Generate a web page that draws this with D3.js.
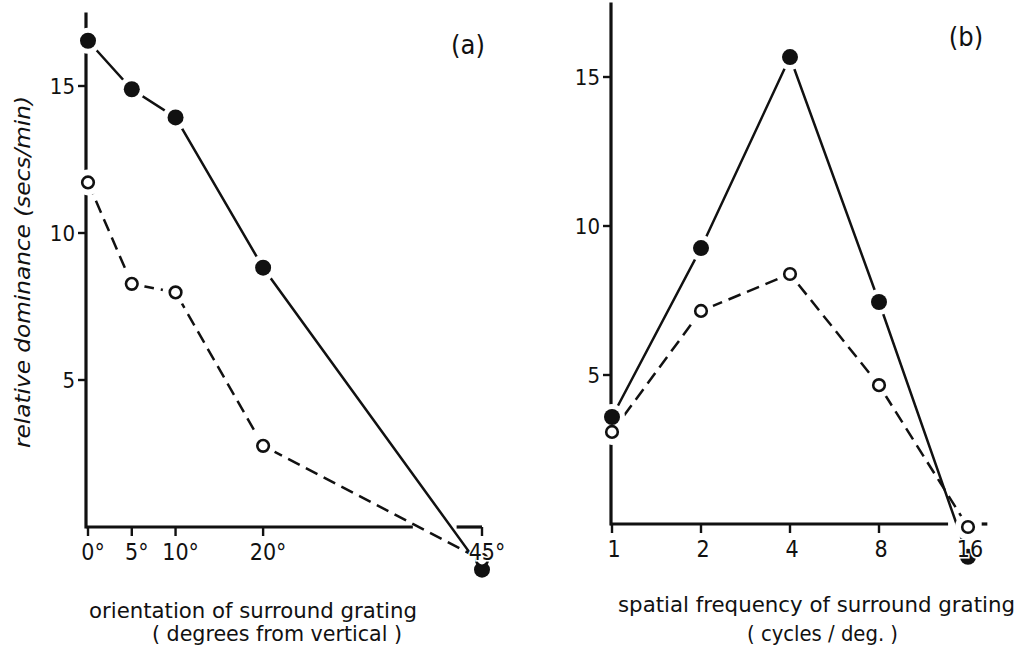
<!DOCTYPE html>
<html>
<head>
<meta charset="utf-8">
<script src="https://cdn.jsdelivr.net/npm/d3@7"></script>
<style>
  html, body { margin: 0; padding: 0; background: #fff; }
  svg { display: block; }
  text { font-family: "DejaVu Sans Condensed", "DejaVu Sans", sans-serif; font-stretch: condensed; fill: #111; }
</style>
</head>
<body>
<svg id="chart" width="1025" height="653"></svg>
<script>
// ---- data ----
const aDegrees    = [0, 5, 10, 20, 45];
const aTickLabels = ["0°", "5°", "10°", "20°", "45°"];
const aFilled     = [16.54, 14.89, 13.93, 8.82, -1.45];
const aOpen       = [11.72, 8.27, 7.98, 2.76, -1.12];

const bFreq       = [1, 2, 4, 8, 16];
const bTickLabels = ["1", "2", "4", "8", "16"];
const bFilled     = [3.59, 9.26, 15.67, 7.45, -1.1];
const bOpen       = [3.09, 7.15, 8.39, 4.66, -0.1];

const yTicks      = [5, 10, 15];
const yTickLabels = ["5", "10", "15"];

// axis segments (data units) — axes have small breaks in the original
const aXAxisSegments = [[0, 37.1], [42.1, 45]];
const bXAxisSegments = [[1, 13.7], [17.8, 18.6]];
const yAxisTop = 17.5;

const svg = d3.select("#chart");
const ink = "#111";

function panel(cfg) {
  const g = svg.append("g");
  const { x, y } = cfg;

  g.append("line")
    .attr("x1", cfg.yAxisX).attr("x2", cfg.yAxisX)
    .attr("y1", y(0) + 1.6).attr("y2", y(yAxisTop))
    .attr("stroke", ink).attr("stroke-width", 3.2);
  g.selectAll("line.yt").data(yTicks).enter().append("line").attr("class", "yt")
    .attr("x1", cfg.yAxisX - 8).attr("x2", cfg.yAxisX)
    .attr("y1", d => y(d)).attr("y2", d => y(d))
    .attr("stroke", ink).attr("stroke-width", 2.4);

  g.selectAll("line.xs").data(cfg.xSegments).enter().append("line").attr("class", "xs")
    .attr("x1", d => x(d[0]) - (d[0] === cfg.xDomainStart ? 1.6 : 0)).attr("x2", d => x(d[1]))
    .attr("y1", y(0)).attr("y2", y(0))
    .attr("stroke", ink).attr("stroke-width", 3.2);
  g.selectAll("line.xt").data(cfg.xTickVals).enter().append("line").attr("class", "xt")
    .attr("x1", d => x(d)).attr("x2", d => x(d))
    .attr("y1", y(0)).attr("y2", y(0) + 9)
    .attr("stroke", ink).attr("stroke-width", 2.4);

  const line = d3.line().x(d => x(d[0])).y(d => y(d[1]));
  const filledPts = cfg.xs.map((v, i) => [v, cfg.filled[i]]);
  const openPts = cfg.xs.map((v, i) => [v, cfg.open[i]]);

  g.append("path").attr("d", line(filledPts))
    .attr("fill", "none").attr("stroke", ink).attr("stroke-width", 2.5);
  g.append("path").attr("d", line(openPts))
    .attr("fill", "none").attr("stroke", ink).attr("stroke-width", 2.5)
    .attr("stroke-dasharray", "13,7");

  // white halos so lines and axes stop short of the markers
  const all = filledPts.concat(openPts);
  g.selectAll("circle.halo").data(all).enter().append("circle").attr("class", "halo")
    .attr("cx", d => x(d[0])).attr("cy", d => y(d[1])).attr("r", 13)
    .attr("fill", "#fff");

  g.selectAll("circle.fm").data(filledPts).enter().append("circle").attr("class", "fm")
    .attr("cx", d => x(d[0])).attr("cy", d => y(d[1])).attr("r", 8)
    .attr("fill", ink);
  g.selectAll("circle.om").data(openPts).enter().append("circle").attr("class", "om")
    .attr("cx", d => x(d[0])).attr("cy", d => y(d[1])).attr("r", 5.8)
    .attr("fill", "#fff").attr("stroke", ink).attr("stroke-width", 2.6);

  g.selectAll("text.ytl").data(yTicks).enter().append("text").attr("class", "ytl")
    .attr("x", cfg.yAxisX - 11).attr("y", d => y(d) + 8)
    .attr("text-anchor", "end").attr("font-size", 22)
    .text((d, i) => yTickLabels[i]);

  g.selectAll("text.xtl").data(cfg.xTickVals).enter().append("text").attr("class", "xtl")
    .attr("x", d => x(d) + cfg.tickLabelDx).attr("y", cfg.tickLabelY)
    .attr("text-anchor", "middle").attr("font-size", 23)
    .attr("stroke", "#fff").attr("stroke-width", 3).attr("paint-order", "stroke")
    .text((d, i) => cfg.tickLabels[i]);

  return g;
}

// Panel (a)
const xa = d3.scaleLinear().domain([0, 45]).range([88, 482]);
const ya = d3.scaleLinear().domain([0, 15]).range([527, 86]);
panel({
  x: xa, y: ya, yAxisX: 86, xs: aDegrees, filled: aFilled, open: aOpen,
  xSegments: aXAxisSegments, xDomainStart: 0, xTickVals: aDegrees,
  tickLabels: aTickLabels, tickLabelDx: 5, tickLabelY: 560
});

// Panel (b)
const xb = d3.scaleLog().base(2).domain([1, 16]).range([612, 968]);
const yb = d3.scaleLinear().domain([0, 15]).range([524, 77]);
panel({
  x: xb, y: yb, yAxisX: 611, xs: bFreq, filled: bFilled, open: bOpen,
  xSegments: bXAxisSegments, xDomainStart: 1, xTickVals: bFreq.slice(0, 4),
  tickLabels: bTickLabels, tickLabelDx: 2, tickLabelY: 557
});
// "16" label (no tick drawn under the marker)
svg.append("text")
  .attr("x", xb(16) + 2).attr("y", 557)
  .attr("text-anchor", "middle").attr("font-size", 23)
  .attr("stroke", "#fff").attr("stroke-width", 3).attr("paint-order", "stroke")
  .text(bTickLabels[4]);

// Panel letters
svg.append("text").attr("x", 468).attr("y", 54).attr("text-anchor", "middle")
  .attr("font-size", 27).text("(a)");
svg.append("text").attr("x", 966).attr("y", 46).attr("text-anchor", "middle")
  .attr("font-size", 27).text("(b)");

// Y axis title
svg.append("text")
  .attr("transform", "translate(30,272) rotate(-90)")
  .attr("text-anchor", "middle").attr("font-size", 21).attr("font-style", "italic")
  .attr("textLength", 352).attr("lengthAdjust", "spacingAndGlyphs")
  .text("relative dominance (secs/min)");

// X axis titles
function title(txt, x0, x1, yb) {
  svg.append("text").attr("x", x0).attr("y", yb)
    .attr("font-size", 22)
    .attr("textLength", x1 - x0).attr("lengthAdjust", "spacingAndGlyphs")
    .text(txt);
}
title("orientation of surround grating", 89, 417, 618);
title("( degrees from vertical )", 152, 402, 641);
title("spatial frequency of surround grating", 618, 1015, 612);
title("( cycles / deg. )", 747, 898, 641);
</script>
</body>
</html>
